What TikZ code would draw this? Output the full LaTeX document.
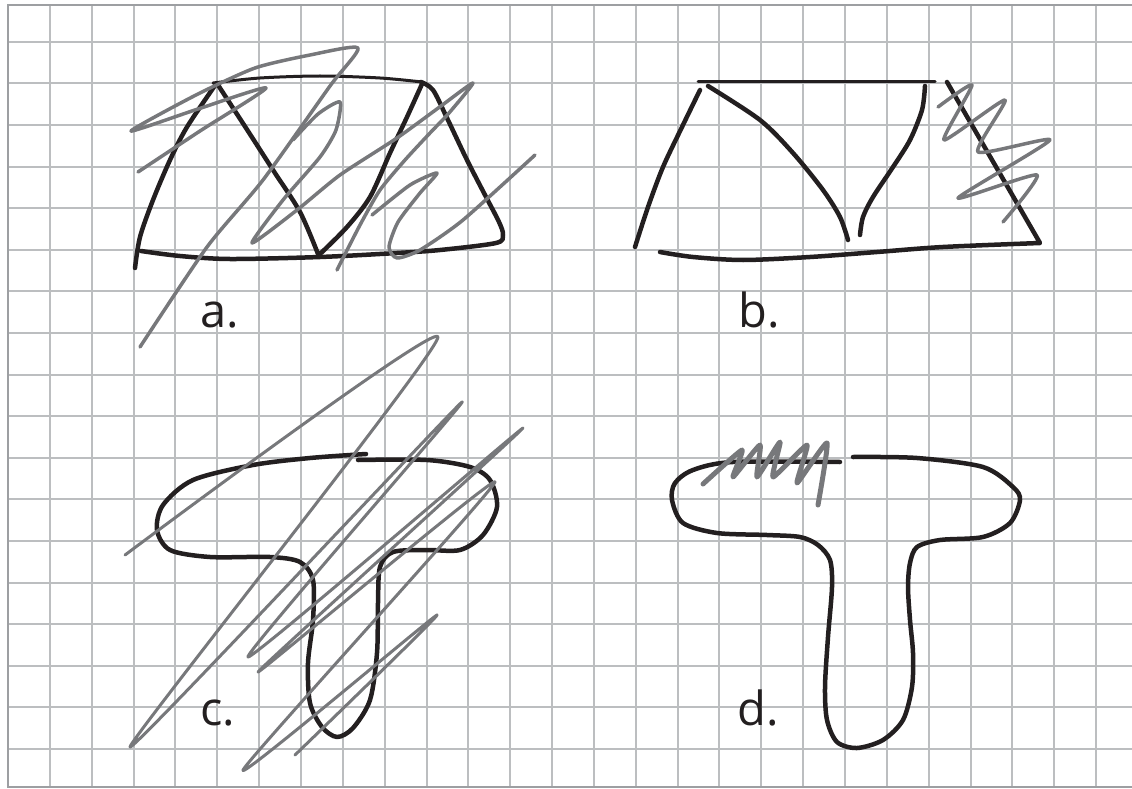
\documentclass[tikz,border=0pt]{standalone}
\usepackage{fontspec}
\setmainfont{Open Sans}
\definecolor{SketchInk}{HTML}{231F20}
\definecolor{SketchGray}{HTML}{77787B}
\definecolor{GridGray}{HTML}{BCBEC0}
\definecolor{FrameGray}{HTML}{9D9FA2}

\begin{document}
\begin{tikzpicture}[x=1pt, y=-1pt,
    ink/.style={line width=4.5pt, SketchInk, line cap=round, line join=round},
    scribble/.style={line width=3.5pt, SketchGray, line cap=round, line join=round},
    tag/.style={font=\fontsize{47}{50}\selectfont, text=SketchInk, anchor=base west, inner sep=0pt}]
        \useasboundingbox (0,0) rectangle (1132,789);
        % squared paper
        \foreach \i in {1,...,26}
            \draw[GridGray, line width=2pt] ({8+41.85*\i},5) -- ({8+41.85*\i},787);
        \foreach \j in {0,...,17}
            \draw[GridGray, line width=2pt] (8,{41.7+41.6*\j}) -- (1132,{41.7+41.6*\j});
        \draw[FrameGray, line width=2.5pt] (1132,5) -- (8,5) -- (8,787) -- (1132,787);

        % a.
        \draw[ink] plot[smooth] coordinates {(135,268) (140,237) (153,200) (170,160) (187,127) (216,84)};
        \draw[ink, line width=3pt] plot[smooth] coordinates {(213,83) (260,78) (320,76) (380,78) (422,82)};
        \draw[ink] plot[smooth] coordinates {(421,82) (433,90) (447,118) (467,160) (485,195) (499,222) (503,235) (496,243) (440,250) (397,253) (320,257) (230,259) (180,256) (141,251)};
        \draw[ink] plot[smooth] coordinates {(218,85) (246,128) (273,170) (300,212) (318,254)}
            -- plot[smooth] coordinates {(320,254) (347,227) (370,197) (390,153) (407,117) (422,84)};
        \draw[scribble] plot[smooth, tension=0.4] coordinates {(138,172) (200,131) (266,88) (198,109) (131,131) (196,95) (255,68) (310,55) (358,48) (330,86) (263,180) (207,247) (140,347)};
        \draw[scribble] plot[smooth, tension=0.4] coordinates {(293,140) (318,114) (340,102) (336,130) (320,157) (283,200) (252,243) (297,210) (340,175) (397,138) (441,106) (473,83) (449,113) (430,133) (405,160) (380,190) (360,225) (337,270)};
        \draw[scribble] plot[smooth, tension=0.4] coordinates {(372,215) (410,185) (437,173) (420,193) (398,222) (389,247) (397,258) (420,250) (463,220) (535,155)};
        \node[tag] (labA) at (200,327) {a.};

        % b.
        \draw[ink, line width=3pt] (698,82) -- (935,82);
        \draw[ink] plot[smooth] coordinates {(700,90) (682,127) (663,167) (648,207) (635,247)};
        \draw[ink] plot[smooth] coordinates {(708,86) (760,120) (793,153) (823,190) (840,217) (848,240)};
        \draw[ink] plot[smooth] coordinates {(925,86) (922,110) (910,140) (893,167) (873,197) (863,217) (860,235)};
        \draw[ink] plot[smooth] coordinates {(660,252) (693,257) (743,260) (810,257) (877,252) (943,247) (1040,243)} -- (947,82);
        \draw[scribble] plot[smooth, tension=0.35] coordinates {(938,107) (972,85) (944,140) (1005,100) (978,152) (1050,140) (958,198) (1037,175) (1003,222)};
        \node[tag] (labB) at (738,327) {b.};

        % c.
        \draw[ink] plot[smooth] coordinates {(366,454) (310,458) (253,465) (193,480) (163,505) (157,530) (170,550) (210,557) (270,557) (300,562) (313,580) (313,620) (308,663) (310,703) (322,727) (337,737) (353,728) (370,700) (377,653) (378,603) (380,567) (393,552) (427,550) (460,550) (483,535) (497,507) (490,480) (470,467) (427,460) (358,460)};
        \draw[scribble, line width=3pt] plot[smooth, tension=0.3] coordinates {(125,555) (438,337) (130,747) (462,402) (248,657) (523,428) (258,672) (495,482) (243,770) (437,615) (295,755)};
        \node[tag] (labC) at (200,725) {c.};

        % d.
        \draw[ink] plot[smooth] coordinates {(840,462) (733,462) (693,470) (675,483) (672,500) (683,523) (717,533) (767,535) (800,537) (818,545) (830,560) (832,587) (828,637) (825,687) (827,720) (837,742) (857,748) (883,740) (903,720) (912,687) (913,653) (910,620) (908,587) (910,563) (917,547) (940,540) (983,537) (1010,523) (1020,500) (1013,487) (983,467) (917,458) (853,457)};
        \draw[scribble, line width=5pt] plot[smooth, tension=0.3] coordinates {(703,484) (742,450) (733,477) (760,445) (757,477) (780,442) (773,477) (807,445) (797,483) (827,443) (818,505)};
        \node[tag] (labD) at (737,725) {d.};
    \end{tikzpicture}
\end{document}
